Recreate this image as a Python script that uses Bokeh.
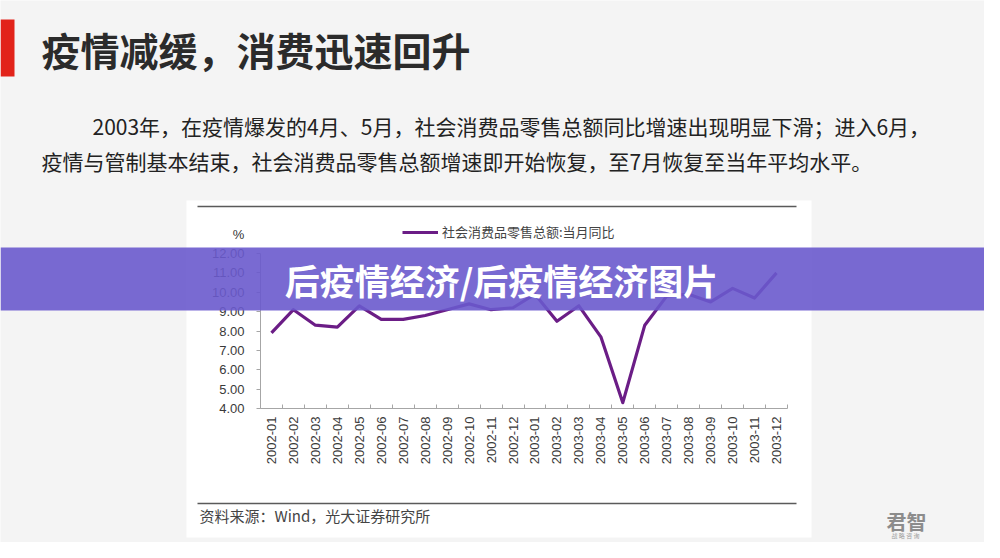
import math
from bokeh.plotting import figure
from bokeh.models import (Range1d, FixedTicker, NumeralTickFormatter, Label,
                          BoxAnnotation, Legend, LegendItem, ColumnDataSource,
                          LinearAxis)
from bokeh.embed import file_html
from bokeh.resources import INLINE

# ---------------- data ----------------
months = ["2002-01", "2002-02", "2002-03", "2002-04", "2002-05", "2002-06",
          "2002-07", "2002-08", "2002-09", "2002-10", "2002-11", "2002-12",
          "2003-01", "2003-02", "2003-03", "2003-04", "2003-05", "2003-06",
          "2003-07", "2003-08", "2003-09", "2003-10", "2003-11", "2003-12"]
retail_yoy = [7.9, 9.1, 8.3, 8.2, 9.3, 8.6, 8.6, 8.8, 9.1, 9.4, 9.1, 9.2,
              9.9, 8.5, 9.3, 7.7, 4.3, 8.3, 9.8, 9.9, 9.5, 10.2, 9.7, 11.0]
y_ticks = [4, 5, 6, 7, 8, 9, 10, 11, 12]
series_name = "社会消费品零售总额:当月同比"
y_unit = "%"
slide_title = "疫情减缓，消费迅速回升"
para_line1 = "2003年，在疫情爆发的4月、5月，社会消费品零售总额同比增速出现明显下滑；进入6月，"
para_line2 = "疫情与管制基本结束，社会消费品零售总额增速即开始恢复，至7月恢复至当年平均水平。"
banner_text = "后疫情经济/后疫情经济图片"
source_text = "资料来源：Wind，光大证券研究所"
logo_text = "君智"
logo_sub = "战 略 咨 询"

# ---------------- layout ----------------
W, H = 984, 542
# where the chart's plot area sits on the canvas (pixels)
CL, CR, CT, CB = 260, 787, 253, 408

n = len(months)
x_lo, x_hi = -0.5, n - 0.5
y_lo, y_hi = min(y_ticks), max(y_ticks)
ppx = (CR - CL) / (x_hi - x_lo)
ppy = (CB - CT) / (y_hi - y_lo)
x_range = Range1d(x_lo - CL / ppx, x_hi + (W - CR) / ppx)
y_range = Range1d(y_lo - (H - CB) / ppy, y_hi + CT / ppy)


def sx(px):           # canvas x -> screen units
    return px


def sy(py):           # canvas y (from top) -> screen units (from bottom)
    return H - py


SLIDE_BG = "#f4f4f4"
PURPLE = "#6b1d86"
CJK = "Noto Sans CJK SC"
AXIS_GREY = "#a6a6a6"

xs = list(range(n))
src = ColumnDataSource(dict(x=xs, y=retail_yoy, m=months))

p = figure(width=W, height=H, output_backend="svg", toolbar_location=None,
           x_range=x_range, y_range=y_range, min_border=0,
           x_axis_location=None, y_axis_location=None)
p.background_fill_color = SLIDE_BG
p.border_fill_color = SLIDE_BG
p.outline_line_color = None
p.grid.visible = False


def box(l, r, t, b, color, alpha=1.0, level="underlay"):
    p.add_layout(BoxAnnotation(left=sx(l), right=sx(r), top=sy(t), bottom=sy(b),
                               left_units="screen", right_units="screen",
                               top_units="screen", bottom_units="screen",
                               fill_color=color, fill_alpha=alpha, line_color=None,
                               level=level))


# white card behind chart, with its two rules
box(186, 811, 200, 537, "white")
box(197, 796, 205.2, 206.8, "#5a5a5a")
box(197, 796, 502.2, 503.8, "#5a5a5a")
# red marker
box(0, 14, 19, 76, "#e2231a")

line = p.line("x", "y", source=src, line_width=3.2, line_color=PURPLE,
              line_join="round")

# x axis, fixed at the chart's baseline
xa = LinearAxis(fixed_location=y_lo, bounds=(x_lo, x_hi))
xa.ticker = FixedTicker(ticks=xs, minor_ticks=[i - 0.5 for i in range(n + 1)])
xa.major_label_overrides = {i: m for i, m in enumerate(months)}
xa.major_label_orientation = math.pi / 2
xa.major_tick_in = 0
xa.major_tick_out = 0
xa.minor_tick_in = 4
xa.minor_tick_out = 0
xa.minor_tick_line_color = AXIS_GREY
xa.axis_line_color = AXIS_GREY
xa.major_label_text_font = "Liberation Sans"
xa.major_label_text_font_size = "13px"
xa.major_label_text_color = "#3a3a3a"
xa.major_label_standoff = 8
p.add_layout(xa, "below")

# y axis, fixed at the chart's left edge
ya = LinearAxis(fixed_location=x_lo, bounds=(y_lo, y_hi))
ya.ticker = FixedTicker(ticks=y_ticks)
ya.formatter = NumeralTickFormatter(format="0.00")
ya.major_tick_in = 0
ya.major_tick_out = 4
ya.minor_tick_line_color = None
ya.major_tick_line_color = AXIS_GREY
ya.axis_line_color = AXIS_GREY
ya.major_label_text_font = "Liberation Sans"
ya.major_label_text_font_size = "13px"
ya.major_label_text_color = "#3a3a3a"
ya.major_label_standoff = 12
p.add_layout(ya, "left")

# legend
legend = Legend(items=[LegendItem(label=series_name, renderers=[line])],
                location=(sx(402), sy(234) - 7), orientation="horizontal",
                glyph_width=36, glyph_height=14, label_height=14,
                label_standoff=4, padding=0, margin=0, spacing=0,
                border_line_color=None, background_fill_alpha=0,
                label_text_font=CJK, label_text_font_size="13px",
                label_text_color="#444444")
p.add_layout(legend)


def add_label(text, px, py, size, color, align="left", bold=False, font=CJK,
              level="annotation"):
    p.add_layout(Label(x=sx(px), y=sy(py), x_units="screen", y_units="screen",
                       text=text, text_font=font, text_font_size=size,
                       text_color=color, text_align=align, text_baseline="middle",
                       text_font_style="bold" if bold else "normal", level=level))


add_label(y_unit, 238, 234, "13px", "#333333", align="center", font="Liberation Sans")
add_label(slide_title, 41, 48, "39px", "#2b2b2b", bold=True)
add_label(para_line1, 92, 125, "21px", "#222222")
add_label(para_line2, 41, 160, "21px", "#222222")
add_label(source_text, 199, 515, "15px", "#444444")
add_label(logo_text, 906, 521, "20px", "#8c8c8c", align="center", bold=True)
add_label(logo_sub, 905, 535, "6px", "#a0a0a0", align="center")

# translucent banner across the slide
box(0, 1000, 247, 310, "#6a5acd", alpha=0.9, level="overlay")
add_label(banner_text, 501, 279, "35px", "white", align="center", bold=True,
          level="overlay")

open("out.html", "w").write(file_html(p, INLINE))
